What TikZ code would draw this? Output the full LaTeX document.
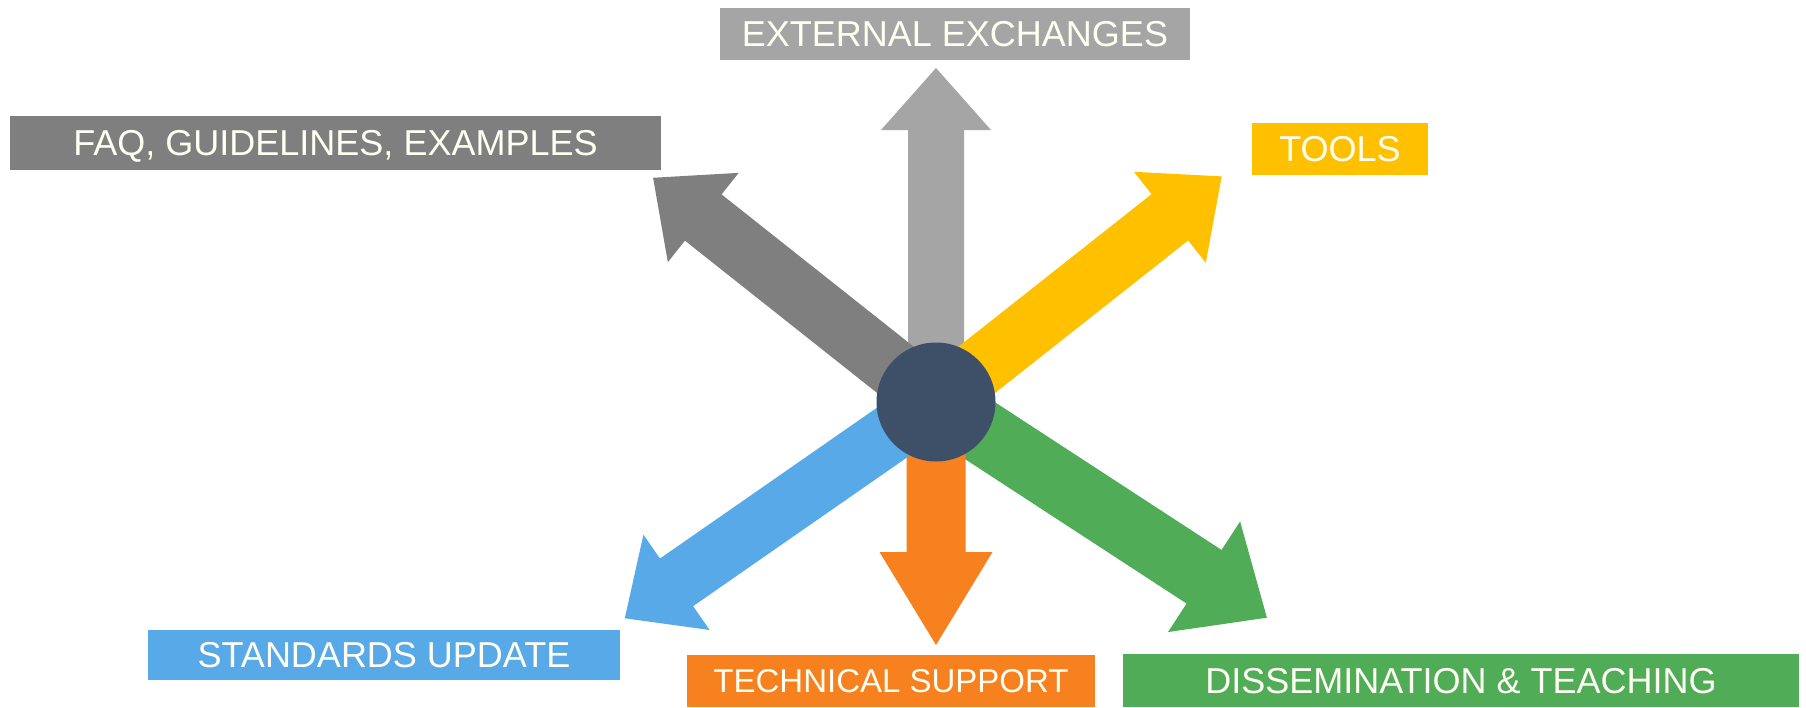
\documentclass[tikz,border=0pt]{standalone}
\usepackage{fontspec}
\setmainfont{Liberation Sans}
\definecolor{cLight}{HTML}{A5A5A5}
\definecolor{cDark}{HTML}{7F7F7F}
\definecolor{cYellow}{HTML}{FFC000}
\definecolor{cGreen}{HTML}{50AC57}
\definecolor{cOrange}{HTML}{F7801F}
\definecolor{cBlue}{HTML}{58A9E8}
\definecolor{cHub}{HTML}{3E5067}
\definecolor{cText}{HTML}{FFFFF4}
% #1 colour, #2 angle, #3 length, #4 shaft half width, #5 head length, #6 head half width
\newcommand\blockarrow[6]{%
  \fill[#1,shift={(hub)},rotate=#2]
    (0,-#4) -- ({#3-#5},-#4) -- ({#3-#5},-#6) -- (#3,0) -- ({#3-#5},#6)
    -- ({#3-#5},#4) -- (0,#4) -- cycle;}
\tikzset{
  labelbox/.style={fill=#1, text=cText, inner sep=0pt, outer sep=0pt,
    font=\fontsize{36}{40}\selectfont, text height=25.8pt, text depth=0pt,
    align=center},
}
\begin{document}
\begin{tikzpicture}[x=1pt,y=-1pt]
\useasboundingbox[fill=white] (0,0) rectangle (1806,707);
\coordinate (hub) at (936,402);
% arrows
\blockarrow{cLight}{90}{334}{28}{62}{55}
\blockarrow{cDark}{141.6}{361}{29.5}{64}{57}
\blockarrow{cYellow}{38.3}{364}{29.5}{66}{58}
\blockarrow{cGreen}{326.9}{395}{32}{75}{66}
\blockarrow{cOrange}{270}{243}{29.5}{93}{56.5}
\blockarrow{cBlue}{214.8}{379}{29}{63}{58}
% hub
\node[circle, fill=cHub, minimum size=119pt, inner sep=0pt] (core) at (hub) {};
% labels
\node[labelbox=cLight, minimum width=470pt, minimum height=52pt] (ext) at (955,34) {EXTERNAL EXCHANGES};
\node[labelbox=cDark, minimum width=651pt, minimum height=54pt] (faq) at (335.5,143) {FAQ, GUIDELINES, EXAMPLES};
\node[labelbox=cYellow, minimum width=176pt, minimum height=52pt] (tools) at (1340,149) {TOOLS};
\node[labelbox=cBlue, minimum width=472pt, minimum height=50pt] (std) at (384,655) {STANDARDS UPDATE};
\node[labelbox=cOrange, minimum width=408pt, minimum height=52pt, font=\fontsize{33}{36}\selectfont, text height=23.6pt] (tech) at (891,681) {TECHNICAL SUPPORT};
\node[labelbox=cGreen, minimum width=676pt, minimum height=53pt] (dis) at (1461,680.5) {DISSEMINATION \& TEACHING};
\end{tikzpicture}
\end{document}
